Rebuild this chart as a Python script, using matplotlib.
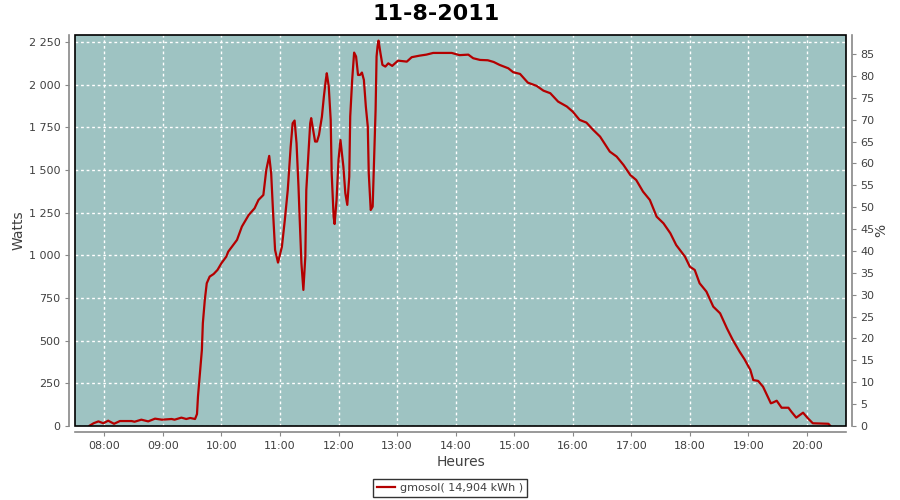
import matplotlib
matplotlib.use("Agg")
import matplotlib.pyplot as plt
from matplotlib.ticker import FuncFormatter, MultipleLocator
from matplotlib.patches import Rectangle

title = "11-8-2011"
series_label = "gmosol( 14,904 kWh )"

times = [
    "07:45", "07:49", "07:54", "07:59", "08:04", "08:10", "08:16", "08:28", "08:31", "08:38",
    "08:45", "08:52", "08:59", "09:09", "09:12", "09:19", "09:24", "09:28", "09:33", "09:35",
    "09:36", "09:38", "09:40", "09:41", "09:43", "09:45", "09:48", "09:52", "09:56", "10:00",
    "10:05", "10:07", "10:16", "10:21", "10:28", "10:34", "10:38", "10:43", "10:46", "10:49",
    "10:51", "10:53", "10:55", "10:58", "11:02", "11:05", "11:08", "11:11", "11:13", "11:15",
    "11:17", "11:19", "11:20", "11:22", "11:24", "11:26", "11:27", "11:29", "11:31", "11:32",
    "11:34", "11:36", "11:38", "11:40", "11:43", "11:45", "11:47", "11:48", "11:50", "11:52",
    "11:53", "11:55", "11:56", "11:58", "12:00", "12:02", "12:05", "12:07", "12:09", "12:11",
    "12:12", "12:14", "12:16", "12:18", "12:20", "12:22", "12:24", "12:26", "12:28", "12:30",
    "12:31", "12:33", "12:35", "12:36", "12:38", "12:39", "12:40", "12:41", "12:43", "12:45",
    "12:48", "12:51", "12:55", "13:01", "13:10", "13:15", "13:23", "13:30", "13:37", "13:46",
    "13:56", "14:04", "14:13", "14:18", "14:25", "14:33", "14:39", "14:45", "14:54", "14:59",
    "15:06", "15:14", "15:23", "15:30", "15:37", "15:45", "15:54", "16:00", "16:07", "16:14",
    "16:21", "16:28", "16:38", "16:45", "16:52", "16:59", "17:05", "17:12", "17:19", "17:26",
    "17:33", "17:40", "17:46", "17:55", "18:00", "18:05", "18:10", "18:17", "18:24", "18:31",
    "18:38", "18:44", "18:51", "18:56", "19:02", "19:05", "19:10", "19:15", "19:19", "19:23",
    "19:25", "19:29", "19:34", "19:41", "19:44", "19:49", "19:56", "20:01", "20:06", "20:22",
    "20:24",
]
watts = [
    2, 16, 27, 16, 31, 13, 29, 29, 25, 37,
    27, 43, 37, 41, 37, 49, 41, 47, 41, 70,
    172, 309, 445, 602, 738, 836, 875, 890, 914, 953,
    992, 1021, 1090, 1168, 1236, 1275, 1324, 1353, 1500, 1582,
    1480, 1246, 1031, 957, 1050, 1207, 1382, 1636, 1773, 1789,
    1656, 1402, 1246, 953, 797, 992, 1382, 1578, 1773, 1803,
    1734, 1666, 1666, 1705, 1812, 1929, 2027, 2066, 1988, 1793,
    1480, 1226, 1183, 1324, 1558, 1675, 1519, 1363, 1295, 1460,
    1812, 2027, 2187, 2164, 2056, 2056, 2070, 2027, 1871, 1754,
    1480, 1265, 1285, 1480, 1851, 2164, 2223, 2257, 2183, 2115,
    2105, 2124, 2109, 2140, 2134, 2160, 2169, 2175, 2185, 2185,
    2185, 2172, 2175, 2154, 2144, 2142, 2132, 2115, 2095, 2072,
    2062, 2011, 1992, 1964, 1949, 1900, 1871, 1841, 1793, 1777,
    1734, 1695, 1607, 1578, 1529, 1470, 1441, 1373, 1324, 1226,
    1187, 1129, 1060, 992, 933, 914, 836, 787, 699, 660,
    572, 504, 435, 391, 328, 269, 264, 230, 182, 133,
    137, 148, 107, 107, 84, 49, 78, 45, 16, 13,
    0,
]
hours = [int(t[:2]) + int(t[3:]) / 60 for t in times]
tick_hours = list(range(8, 21))

txt = "#404040"
axc = "#888888"

fig = plt.figure(figsize=(9, 5), dpi=100)
ax = fig.add_axes([75 / 900, 1 - 426 / 500, (846 - 75) / 900, (426 - 35) / 500])
ax.set_facecolor("#9ec3c2")

ax.plot(hours, watts, color="#b40000", lw=1.6, label=series_label, zorder=3)

ax.set_xlim(7.5, 20 + 40 / 60)
ax.set_ylim(0, 2290)
ax.set_xticks(tick_hours)
ax.set_xticklabels([f"{h:02d}:00" for h in tick_hours])
ax.yaxis.set_major_locator(MultipleLocator(250))
ax.yaxis.set_major_formatter(FuncFormatter(lambda v, p: f"{v:,.0f}".replace(",", " ")))
ax.grid(True, color="white", linestyle=(0, (2, 2)), linewidth=1)

ax2 = ax.twinx()
ax2.set_ylim(0, 89.35)
ax2.yaxis.set_major_locator(MultipleLocator(5))

for a in (ax, ax2):
    for s in a.spines.values():
        s.set_visible(False)
    a.tick_params(colors=axc, labelcolor=txt, labelsize=8, length=3, direction="out")
ax.spines["left"].set_visible(True)
ax.spines["bottom"].set_visible(True)
ax2.spines["right"].set_visible(True)
for a, side in ((ax, "left"), (ax, "bottom"), (ax2, "right")):
    a.spines[side].set_position(("outward", 4))
    a.spines[side].set_color(axc)
    a.spines[side].set_linewidth(1.2)

ax2.add_patch(Rectangle((0, 0), 1, 1, transform=ax2.transAxes, fill=False,
                        edgecolor="black", lw=1.2, clip_on=False, zorder=10))

ax.set_ylabel("Watts", fontsize=10, color=txt, labelpad=2)
ax.set_xlabel("Heures", fontsize=10, color=txt, labelpad=3)
ax2.set_ylabel("%", fontsize=10, color=txt, labelpad=0)

fig.text(436 / 900, 1 - 14 / 500, title, ha="center", va="center", fontsize=16,
         fontweight="bold", color="black")

leg = fig.legend(loc="center", bbox_to_anchor=(0.5, 12 / 500), fontsize=8,
                 frameon=True, fancybox=False, handlelength=1.6, handletextpad=0.4,
                 borderpad=0.4, labelcolor=txt)
leg.get_frame().set_edgecolor("black")
leg.get_frame().set_linewidth(1)

fig.savefig("out.png", dpi=100)
